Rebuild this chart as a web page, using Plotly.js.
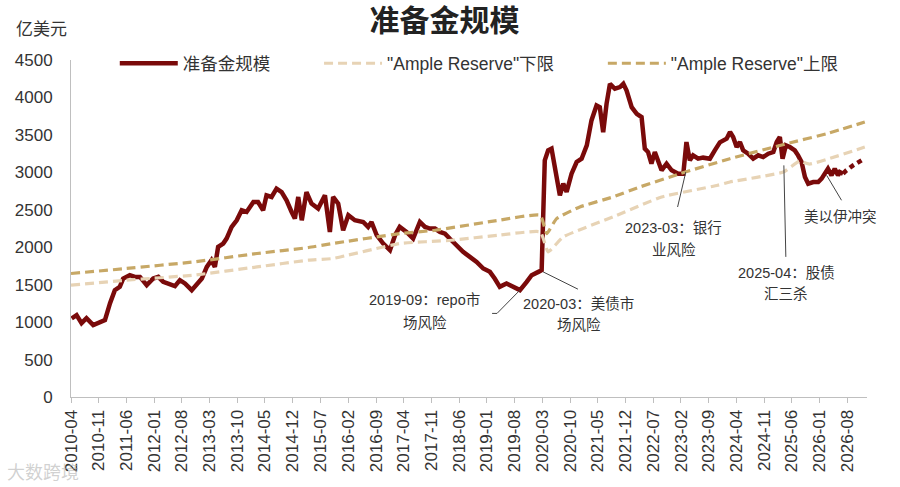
<!DOCTYPE html>
<html>
<head>
<meta charset="utf-8">
<script src="https://cdn.plot.ly/plotly-3.0.1.min.js"></script>
<style>
  html, body { margin: 0; padding: 0; background: #ffffff; }
  #chart { width: 900px; height: 487px; }
</style>
</head>
<body>
<div id="chart"></div>
<script>
// ---- Data ----
const mainDates = [
  "2010-04-06","2010-05-14","2010-06-21","2010-07-29","2010-09-19","2010-11-10","2010-12-18",
  "2011-01-26","2011-03-04","2011-04-11","2011-05-07","2011-06-27","2011-08-05","2011-09-13",
  "2011-11-04","2011-12-24","2012-02-01","2012-03-10","2012-06-08","2012-07-16","2012-08-24",
  "2012-10-15","2012-11-23","2013-01-01","2013-02-08","2013-03-16","2013-04-11","2013-05-06",
  "2013-06-14","2013-07-10","2013-08-18","2013-09-26","2013-11-03","2013-12-11","2014-02-01",
  "2014-03-09","2014-04-17","2014-05-13","2014-06-21","2014-07-29","2014-09-06","2014-10-14",
  "2014-11-22","2014-12-17","2015-01-12","2015-02-08","2015-03-16","2015-04-24","2015-06-14",
  "2015-08-05","2015-09-12","2015-10-07","2015-11-15","2015-12-23","2016-02-01","2016-03-22",
  "2016-05-25","2016-07-02","2016-07-28","2016-09-06","2016-10-26","2016-12-17","2017-01-25",
  "2017-03-02","2017-04-23","2017-06-13","2017-08-04","2017-09-12","2017-10-20","2017-11-28",
  "2018-01-05","2018-02-13","2018-03-21","2018-05-12","2018-07-02","2018-08-23","2018-10-14",
  "2018-12-04","2019-01-24","2019-03-02","2019-04-10","2019-06-01","2019-07-21","2019-09-12",
  "2019-11-03","2019-12-11","2020-02-01","2020-02-26","2020-03-21","2020-04-16","2020-05-12",
  "2020-06-07","2020-07-15","2020-08-10","2020-09-05","2020-10-13","2020-11-21","2020-12-29",
  "2021-02-07","2021-03-15","2021-04-23","2021-05-18","2021-06-13","2021-07-09","2021-08-04",
  "2021-09-11","2021-10-20","2021-11-15","2021-12-10","2022-01-18","2022-02-26","2022-04-04",
  "2022-04-29","2022-05-24","2022-06-19","2022-07-15","2022-08-10","2022-09-05","2022-10-13",
  "2022-11-21","2023-01-11","2023-02-19","2023-03-15","2023-04-10","2023-05-05","2023-06-13",
  "2023-07-21","2023-09-11","2023-10-19","2023-11-27","2024-01-18","2024-02-13","2024-03-08",
  "2024-04-04","2024-04-29","2024-05-24","2024-07-01","2024-08-09","2024-09-17","2024-10-25",
  "2024-12-03","2025-01-11","2025-02-06","2025-03-02","2025-03-23","2025-04-17","2025-05-18",
  "2025-06-25","2025-07-20","2025-08-16","2025-09-11","2025-10-06","2025-11-14","2025-12-22",
  "2026-01-17","2026-02-12","2026-03-07","2026-04-03","2026-04-28","2026-05-23","2026-06-06",
  "2026-07-01"
];
const mainValues = [
  1049,1093,987,1053,960,1004,1027,
  1253,1427,1471,1582,1627,1604,1604,
  1493,1582,1604,1537,1480,1560,1516,
  1427,1516,1582,1737,1827,1737,2004,
  2049,2116,2271,2360,2493,2471,2604,
  2604,2493,2693,2671,2782,2737,2627,
  2471,2382,2671,2360,2737,2582,2516,
  2693,2204,2671,2582,2227,2427,2360,
  2337,2271,2337,2160,2049,1960,2160,
  2271,2204,2116,2337,2271,2249,2249,
  2204,2182,2116,2027,1938,1871,1804,
  1716,1671,1582,1471,1516,1471,1427,
  1537,1627,1671,1693,3160,3293,3316,
  3027,2693,2849,2737,2982,3138,3182,
  3360,3693,3893,3871,3537,3916,4182,
  4116,4138,4182,4093,3871,3782,3738,
  3316,3271,3116,3271,3138,3027,3116,
  3027,2982,2982,3404,3160,3227,3182,
  3196,3182,3293,3400,3449,3538,3471,
  3338,3404,3293,3249,3182,3227,3204,
  3249,3271,3404,3471,3182,3360,3338,
  3293,3227,3138,2938,2849,2871,2871,
  2916,3004,3049,2960,3049,2960,3004,
  2982
];
// dotted continuation at the end of the series
const tailDates  = ["2026-07-01","2026-07-27","2026-09-16","2026-11-20"];
const tailValues = [2982, 3027, 3093, 3160];

const upperDates = [
  "2010-04-01","2011-06-01","2012-11-01","2014-03-01","2015-04-01","2015-10-01","2017-03-01",
  "2017-12-01","2019-04-01","2020-02-15","2020-04-05","2020-06-20","2020-12-15","2021-08-27",
  "2022-03-21","2023-01-25","2024-02-12","2025-04-22","2026-02-25","2026-12-15"
];
const upperValues = [
  1649,1716,1804,1916,1996,2049,2182,
  2227,2360,2427,2182,2382,2538,2671,
  2804,2982,3182,3382,3516,3671
];
const lowerDates = [
  "2010-04-01","2011-06-01","2012-11-01","2014-03-01","2015-04-01","2015-10-01","2017-03-01",
  "2018-04-01","2019-04-01","2020-02-15","2020-04-16","2020-08-10","2021-08-27","2022-09-05",
  "2023-11-10","2024-02-12","2025-03-29","2025-08-01","2025-10-15","2026-12-15"
];
const lowerValues = [
  1493,1560,1627,1737,1827,1849,2049,
  2093,2160,2204,1938,2138,2404,2671,
  2827,2871,3004,3150,3110,3338
];

const seriesNames = ["准备金规模", "\"Ample Reserve\"下限", "\"Ample Reserve\"上限"];

// event notes: leader line from (x0,y0) to (x1,y1), text lines at given spots
const noteLines1 = ["2019-09：repo市", "2020-03：美债市", "2023-03：银行", "2025-04：股债", "美以伊冲突"];
const noteLines2 = ["场风险", "场风险", "业风险", "汇三杀", ""];
const noteTextX  = ["2017-09-12", "2020-12-09", "2022-12-08", "2025-04-21", "2026-06-13"];
const noteTextY1 = [1293, 1240, 2253, 1653, 2404];
const noteTextY2 = [987, 960, 1960, 1373, 0];
const leadX0 = ["2019-09-12", "2020-03-08", "2023-03-10", "2025-04-02", "2026-02-25"];
const leadY0 = [1427, 1671, 3004, 3093, 2960];
const leadX1 = ["2019-03-20", "2020-12-01", "2023-01-06", "2025-04-17", "2026-06-19"];
const leadY1 = [1116, 1440, 2537, 1871, 2627];
const leadX2 = ["2019-02-10", null, null, null, null];

// ---- Styles ----
const FONT = "Liberation Sans, Arial, Noto Sans CJK SC, sans-serif";
const MAIN_COLOR = "#7A0A0A";
const UPPER_COLOR = "#C7A866";
const LOWER_COLOR = "#E7D3B5";
const NB = "\u00A0";
const pad = (s, n) => s + NB.repeat(n);

const traces = [
  {
    x: mainDates, y: mainValues, name: pad(seriesNames[0], 9), type: "scatter", mode: "lines",
    line: { color: MAIN_COLOR, width: 4.5 }
  },
  {
    x: lowerDates, y: lowerValues, name: pad(seriesNames[1], 9), type: "scatter", mode: "lines",
    line: { color: LOWER_COLOR, width: 3.2, dash: "9px,5px", shape: "spline", smoothing: 0.4 }
  },
  {
    x: upperDates, y: upperValues, name: seriesNames[2], type: "scatter", mode: "lines",
    line: { color: UPPER_COLOR, width: 3.2, dash: "9px,5px", shape: "spline", smoothing: 0.4 }
  },
  {
    x: tailDates, y: tailValues, name: "tail", type: "scatter", mode: "lines", showlegend: false,
    line: { color: MAIN_COLOR, width: 4.5, dash: "5px,4px" }
  }
];

const shapes = [];
for (let i = 0; i < leadX0.length; i++) {
  shapes.push({
    type: "line", xref: "x", yref: "y",
    x0: leadX0[i], y0: leadY0[i], x1: leadX1[i], y1: leadY1[i],
    line: { color: "#444444", width: 1 }
  });
  if (leadX2[i]) {
    shapes.push({
      type: "line", xref: "x", yref: "y",
      x0: leadX1[i], y0: leadY1[i], x1: leadX2[i], y1: leadY1[i],
      line: { color: "#444444", width: 1 }
    });
  }
}

const annotations = [];
for (let i = 0; i < noteLines1.length; i++) {
  annotations.push({
    x: noteTextX[i], y: noteTextY1[i], xref: "x", yref: "y", text: noteLines1[i],
    showarrow: false, xanchor: "center", yanchor: "middle",
    font: { family: FONT, size: 14.5, color: "#333333" }
  });
  if (noteLines2[i]) {
    annotations.push({
      x: noteTextX[i], y: noteTextY2[i], xref: "x", yref: "y", text: noteLines2[i],
      showarrow: false, xanchor: "center", yanchor: "middle",
      font: { family: FONT, size: 14.5, color: "#333333" }
    });
  }
}
// unit label
annotations.push({
  x: -0.037, y: 1.09, xref: "paper", yref: "paper", text: "亿美元", showarrow: false,
  xanchor: "center", yanchor: "middle", font: { family: FONT, size: 17, color: "#333333" }
});
// watermark
annotations.push({
  x: -0.035, y: -0.225, xref: "paper", yref: "paper", text: "大数跨境", showarrow: false,
  xanchor: "center", yanchor: "middle", font: { family: FONT, size: 18, color: "rgba(170,170,170,0.55)" }
});

const layout = {
  width: 900, height: 487,
  margin: { l: 71, r: 33, t: 60, b: 90 },
  paper_bgcolor: "#ffffff", plot_bgcolor: "#ffffff",
  font: { family: FONT, size: 16, color: "#333333" },
  title: {
    text: "<b>准备金规模</b>", xref: "container", x: 0.494, y: 0.957, yanchor: "middle",
    font: { family: FONT, size: 30, color: "#222222" }
  },
  showlegend: true,
  legend: {
    orientation: "h", x: 0.055, xanchor: "left", y: 0.99, yanchor: "middle",
    itemwidth: 58, font: { family: FONT, size: 17.5, color: "#333333" },
    bgcolor: "rgba(0,0,0,0)", traceorder: "normal"
  },
  xaxis: {
    type: "date", range: ["2010-04-01", "2027-01-01"],
    tick0: "2010-04-01", dtick: "M7", tickformat: "%Y-%m", tickangle: -90,
    showgrid: false, zeroline: false, showline: true, linecolor: "#BFBFBF", linewidth: 1,
    ticks: "outside", ticklen: 5, tickcolor: "#BFBFBF",
    tickfont: { family: FONT, size: 17, color: "#333333" }
  },
  yaxis: {
    range: [0, 4500], tickmode: "linear", tick0: 0, dtick: 500,
    showgrid: false, zeroline: false, showline: true, linecolor: "#BFBFBF", linewidth: 1,
    ticks: "", ticklabelstandoff: 14,
    tickfont: { family: FONT, size: 17, color: "#333333" }
  },
  shapes: shapes,
  annotations: annotations
};

Plotly.newPlot("chart", traces, layout, { displayModeBar: false, staticPlot: true });
</script>
</body>
</html>
